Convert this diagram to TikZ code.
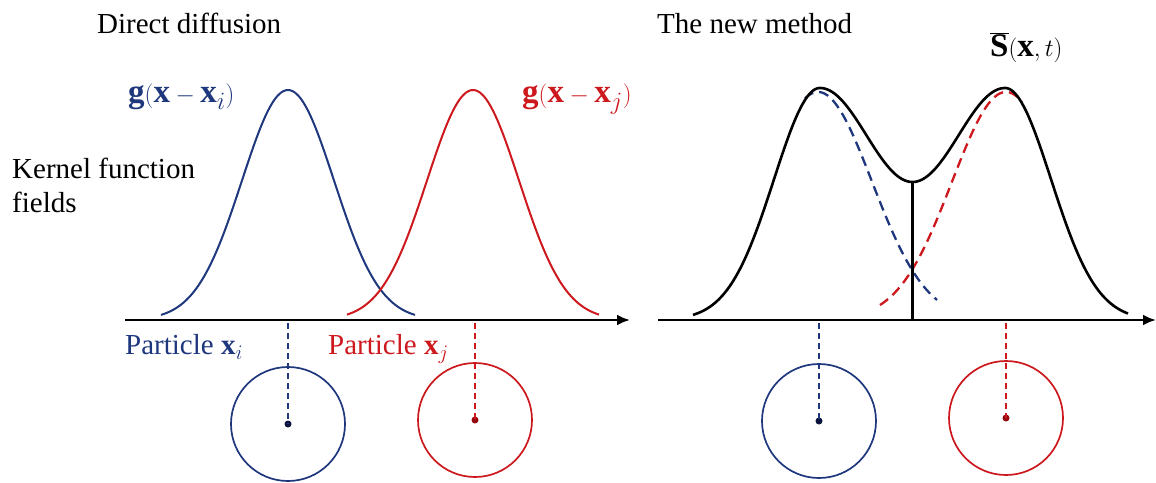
\documentclass[tikz,border=0pt]{standalone}
\usepackage{fontspec}
\setmainfont{Liberation Serif}
\usetikzlibrary{arrows.meta}
\definecolor{myblue}{RGB}{30,55,125}
\definecolor{myred}{RGB}{205,25,30}
\definecolor{dotblue}{RGB}{10,20,60}
\definecolor{dotred}{RGB}{150,10,15}
\tikzset{
  lbl/.style={font=\fontsize{29}{35}\selectfont, inner sep=0pt, anchor=base west},
  mlbl/.style={font=\fontsize{33}{38}\selectfont, inner sep=0pt, anchor=base west},
  gauss/.style={line width=2pt, smooth, samples=90},
  sumcurve/.style={line width=2.6pt, smooth, samples=60},
  axisline/.style={line width=2.6pt, -{Latex[length=13pt,width=11pt]}},
  vdash/.style={line width=1.5pt, dash pattern=on 6pt off 4pt},
  cdash/.style={line width=2.3pt, dash pattern=on 10pt off 6pt, smooth, samples=60},
  ring/.style={circle, draw, line width=1.7pt, minimum size=114pt, inner sep=0pt},
  ctr/.style={circle, fill, minimum size=7pt, inner sep=0pt},
}
\begin{document}
\begin{tikzpicture}[x=1pt,y=-1pt]
\useasboundingbox (0,0) rectangle (1156,482);

% titles
\node[lbl] (t1) at (97,33) {Direct diffusion};
\node[lbl] (t2) at (657,33) {The new method};
\node[lbl] (t3a) at (12,178) {Kernel function};
\node[lbl] (t3b) at (12,212) {fields};

% kernel labels
\node[mlbl, text=myblue] (gi) at (128,102) {$\mathbf{g}(\mathbf{x}-\mathbf{x}_{i})$};
\node[mlbl, text=myred] (gj) at (522,102) {$\mathbf{g}(\mathbf{x}-\mathbf{x}_{j})$};
\node[mlbl] (sb) at (990,56) {$\overline{\mathbf{S}}(\mathbf{x},t)$};

% axes
\coordinate (a1s) at (125,320);
\coordinate (a1e) at (630,320);
\coordinate (a2s) at (658,320);
\coordinate (a2e) at (1156,320);
\draw[axisline] (a1s) -- (a1e);
\draw[axisline] (a2s) -- (a2e);

% left panel gaussians
\draw[gauss, myblue, domain=161:415] plot (\x, {320-230*exp(-0.5*((\x-288)/46)^2)});
\draw[gauss, myred, domain=347:599] plot (\x, {320-230*exp(-0.5*((\x-473)/46)^2)});

% right panel dashed kernels
\draw[cdash, myblue, domain=805:937] plot (\x, {320-228*exp(-0.5*((\x-818)/54)^2)});
\draw[cdash, myred, domain=880:1022] plot (\x, {320-228*exp(-0.5*((\x-1006)/54)^2)});

% right panel summed field
\draw[sumcurve, line join=round]
  plot[domain=693:820] (\x, {320-232*exp(-0.5*((\x-820)/46)^2)})
  -- plot[domain=820:912.5] (\x, {320-(138+47*(1+cos((\x-820)/92.5*180)))})
  -- plot[domain=912.5:1005] (\x, {320-(138+47*(1+cos((1005-\x)/92.5*180)))})
  -- plot[domain=1005:1128] (\x, {320-232*exp(-0.5*((\x-1005)/46)^2)});
\coordinate (mn) at (912.5,182);
\coordinate (mb) at (912.5,320);
\draw[line width=2.4pt] (mn) -- (mb);

% particle labels
\node[lbl, text=myblue] (pi) at (125,354) {Particle $\mathbf{x}_i$};
\node[lbl, text=myred] (pj) at (328,354) {Particle $\mathbf{x}_j$};

% particles left
\node[ring, draw=myblue] (ci) at (288,424) {};
\node[ctr, fill=dotblue] (di) at (288,424) {};
\coordinate (ti) at (288,323);
\draw[vdash, myblue] (ti) -- (di.center);
\node[ring, draw=myred] (cj) at (475,420) {};
\node[ctr, fill=dotred] (dj) at (475,420) {};
\coordinate (tj) at (475,323);
\draw[vdash, myred] (tj) -- (dj.center);

% particles right
\node[ring, draw=myblue] (ci2) at (819,421) {};
\node[ctr, fill=dotblue] (di2) at (819,421) {};
\coordinate (ti2) at (819,323);
\draw[vdash, myblue] (ti2) -- (di2.center);
\node[ring, draw=myred] (cj2) at (1006,418) {};
\node[ctr, fill=dotred] (dj2) at (1006,418) {};
\coordinate (tj2) at (1006,323);
\draw[vdash, myred] (tj2) -- (dj2.center);
\end{tikzpicture}
\end{document}
